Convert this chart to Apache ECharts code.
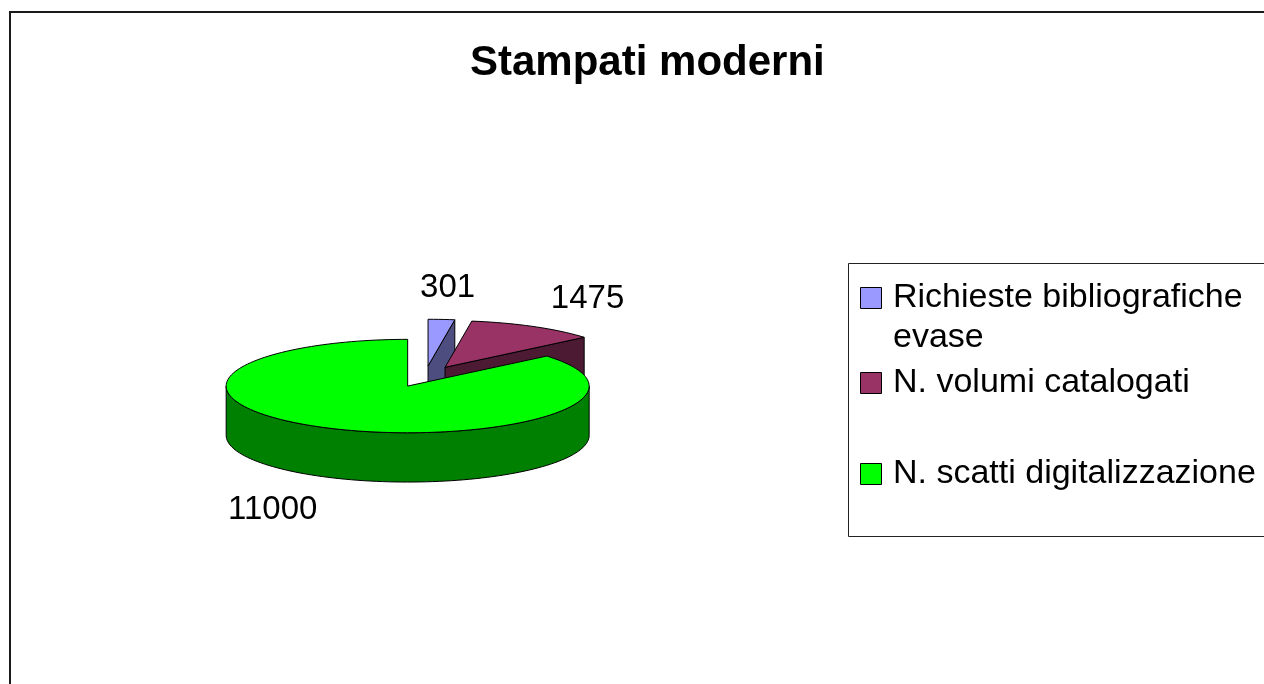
<!DOCTYPE html>
<html>
<head>
<meta charset="utf-8">
<script src="https://cdn.jsdelivr.net/npm/echarts@6/dist/echarts.min.js"></script>
<style>
html, body { margin: 0; padding: 0; background: #fff; }
#pie { width: 1264px; height: 684px; }
</style>
</head>
<body>
<div id="pie"></div>
<script>
const categories = ['Richieste bibliografiche evase', 'N. volumi catalogati', 'N. scatti digitalizzazione'];
const values = [301, 1475, 11000];
const topColors = ['#9999ff', '#993366', '#00ff00'];
const sideColors = ['#4d4d80', '#4d1a33', '#008000'];

// excel style 3d pie: flat ellipse + rim, every slice pushed out a bit
const pie = { cx: 425, cy: 376.5, rx: 181.5, ry: 46.7, depth: 49.3, explode: 41 };
const font = '"Liberation Sans", Arial, sans-serif';
const total = values.reduce((a, b) => a + b, 0);
const rad = d => d * Math.PI / 180;

// angle in degrees, clockwise from 12 o'clock
function pt(c, ang, dy) {
  return [c[0] + pie.rx * Math.sin(rad(ang)), c[1] - pie.ry * Math.cos(rad(ang)) + (dy || 0)];
}
function arc(c, a0, a1, dy) {
  const pts = [];
  const n = Math.max(2, Math.ceil(Math.abs(a1 - a0) / 2));
  for (let i = 0; i <= n; i++) pts.push(pt(c, a0 + (a1 - a0) * i / n, dy));
  return pts;
}

function renderSlice(params, api) {
  const i = params.dataIndex;
  let start = 0;
  for (let k = 0; k < i; k++) start += values[k];
  const a0 = start / total * 360;
  const a1 = (start + api.value(0)) / total * 360;
  const mid = (a0 + a1) / 2;
  const s = Math.sin(rad(mid)), co = Math.cos(rad(mid));
  const c = [pie.cx + pie.explode * s, pie.cy - pie.explode * pie.ry / pie.rx * co];
  const d = pie.depth;
  const line = { stroke: '#000', lineWidth: 1, lineJoin: 'round' };
  const side = Object.assign({ fill: sideColors[i] }, line);
  const children = [];

  // cut faces, only the ones turned to the viewer
  [[a0, -1], [a1, 1]].forEach(([a, dir]) => {
    if (dir * Math.sin(rad(a)) > 1e-6) {
      const p = pt(c, a);
      children.push({
        type: 'polygon',
        shape: { points: [c, p, [p[0], p[1] + d], [c[0], c[1] + d]] },
        style: side
      });
    }
  });
  // front half of the rim
  const f0 = Math.max(a0, 90), f1 = Math.min(a1, 270);
  if (f1 > f0) {
    children.push({
      type: 'polygon',
      shape: { points: arc(c, f0, f1).concat(arc(c, f1, f0, d)) },
      style: side
    });
  }
  // top face
  children.push({
    type: 'polygon',
    shape: { points: [c].concat(arc(c, a0, a1)) },
    style: Object.assign({ fill: topColors[i] }, line)
  });

  // value label outside the slice
  const txt = String(api.value(0));
  const anchor = pt(c, mid, co < 0 ? d : 0);
  const w = txt.length * 0.556 * 33, h = 33;
  children.push({
    type: 'text',
    style: {
      text: txt,
      x: anchor[0] + s * w * 1.5,
      y: anchor[1] - co * (h / 2 + 17) + 2,
      align: 'center',
      verticalAlign: 'middle',
      font: '33px ' + font,
      fill: '#000'
    }
  });
  return { type: 'group', children: children };
}

const legendY = [298, 383, 474];
const legendItems = [];
categories.forEach((name, i) => {
  legendItems.push({
    type: 'rect',
    shape: { x: 860.5, y: legendY[i] - 10.5, width: 21, height: 21 },
    style: { fill: topColors[i], stroke: '#000', lineWidth: 1 }
  });
  legendItems.push({
    type: 'text',
    style: {
      text: name, x: 893, y: legendY[i] - 20,
      width: 368, overflow: 'break', lineHeight: 40,
      font: '34px ' + font, fill: '#000'
    }
  });
});

const chart = echarts.init(document.getElementById('pie'));
chart.setOption({
  animation: false,
  title: {
    text: 'Stampati moderni',
    left: 465,
    top: 37,
    textStyle: { fontSize: 42, fontWeight: 'bold', fontFamily: font, color: '#000' }
  },
  graphic: [
    {
      type: 'polyline',
      shape: { points: [[10, 700], [10, 12], [1280, 12]] },
      style: { stroke: '#1a1a1a', lineWidth: 2, fill: null },
      silent: true
    },
    {
      type: 'rect',
      shape: { x: 848.5, y: 263.5, width: 440, height: 273 },
      style: { stroke: '#222', lineWidth: 1, fill: null },
      silent: true
    }
  ].concat(legendItems),
  series: [{
    type: 'custom',
    coordinateSystem: 'none',
    renderItem: renderSlice,
    data: values.map((v, i) => ({ name: categories[i], value: v }))
  }]
});
</script>
</body>
</html>
